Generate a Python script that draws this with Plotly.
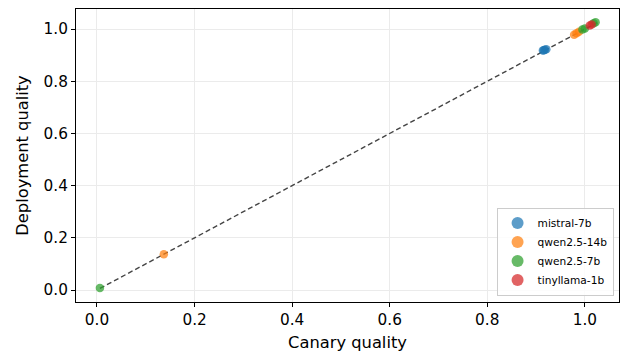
import plotly.graph_objects as go

models = ["mistral-7b", "qwen2.5-14b", "qwen2.5-7b", "tinyllama-1b"]
colors = ["#1f77b4", "#ff7f0e", "#2ca02c", "#d62728"]
canary = {
    "mistral-7b": [0.914, 0.918, 0.921, 0.916],
    "qwen2.5-14b": [0.137, 0.978, 0.983, 0.988],
    "qwen2.5-7b": [0.006, 0.995, 1.000, 1.018, 1.022],
    "tinyllama-1b": [1.010, 1.014],
}
deploy = {
    "mistral-7b": [0.918, 0.921, 0.923, 0.919],
    "qwen2.5-14b": [0.137, 0.978, 0.984, 0.990],
    "qwen2.5-7b": [0.008, 0.998, 1.002, 1.022, 1.026],
    "tinyllama-1b": [1.014, 1.018],
}
line_x = [0.006, 1.025]

fig = go.Figure()
fig.add_trace(go.Scatter(x=line_x, y=line_x, mode="lines",
                         line=dict(color="#444444", width=1.4, dash="5px,3px"),
                         showlegend=False, hoverinfo="skip"))
for m, c in zip(models, colors):
    fig.add_trace(go.Scatter(x=canary[m], y=deploy[m], mode="markers", name=m,
                             marker=dict(color=c, size=8.5, opacity=0.72, line=dict(width=0))))

axis_common = dict(showgrid=True, gridcolor="#ebebeb", gridwidth=1, zeroline=False,
                   showline=True, linecolor="black", linewidth=1, mirror=True,
                   ticks="outside", ticklen=4, tickcolor="black", automargin=False,
                   tickfont=dict(size=15.3, color="black"), tickformat=".1f", dtick=0.2)
fig.update_xaxes(range=[-0.043, 1.07], title=dict(text="Canary quality", font=dict(size=16.3, color="black"), standoff=8), **axis_common)
fig.update_yaxes(range=[-0.046, 1.077], title=dict(text="Deployment quality", font=dict(size=16.3, color="black"), standoff=10), **axis_common)
fig.update_layout(
    width=621, height=355, autosize=False,
    margin=dict(l=76, r=2, t=9, b=53),
    plot_bgcolor="white", paper_bgcolor="white",
    font=dict(family="DejaVu Sans", color="black"),
    legend=dict(x=0.99, y=0.022, xanchor="right", yanchor="bottom",
                bgcolor="rgba(255,255,255,0.85)", bordercolor="#cccccc", borderwidth=1,
                font=dict(size=10.6), itemsizing="constant", tracegroupgap=0, itemwidth=30),
)
fig.write_html("out.html", config={"responsive": False, "displayModeBar": False},
               post_script="document.body.style.margin='0';document.body.style.padding='0';")
